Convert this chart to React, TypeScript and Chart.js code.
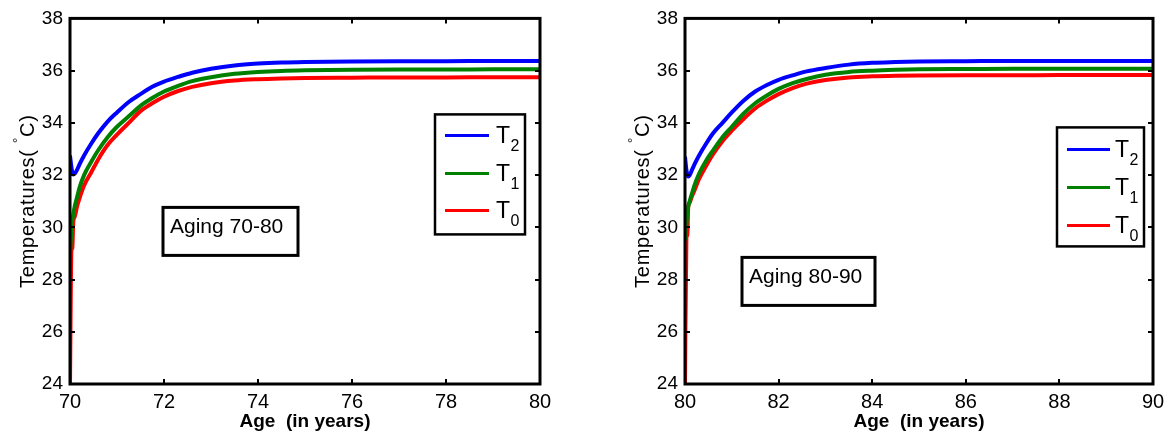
import React, { useEffect, useRef } from 'react';
import { Chart, registerables } from 'chart.js';

Chart.register(...registerables);

// ---------- Data ----------
const AGES_A = [70, 70.03, 70.05, 70.07, 70.1, 70.15, 70.2, 70.3, 70.45, 70.6, 70.8, 71, 71.25, 71.5, 71.75, 72, 72.3, 72.6, 73, 73.5, 74, 74.5, 75, 76, 77, 78, 79, 80];
const T2_A = [32.75, 32.3, 32.1, 32.02, 32.05, 32.2, 32.4, 32.75, 33.2, 33.6, 34.05, 34.4, 34.8, 35.1, 35.38, 35.58, 35.76, 35.92, 36.07, 36.2, 36.27, 36.31, 36.33, 36.35, 36.36, 36.36, 36.37, 36.37];
const T1_A = [29.0, 29.9, 30.3, 30.5, 30.8, 31.15, 31.5, 32.0, 32.5, 32.95, 33.45, 33.85, 34.25, 34.65, 34.95, 35.2, 35.42, 35.6, 35.75, 35.88, 35.95, 35.99, 36.01, 36.03, 36.04, 36.04, 36.05, 36.05];
const T0_A = [24.0, 29.1, 29.2, 30.2, 30.4, 30.8, 31.1, 31.6, 32.1, 32.6, 33.15, 33.55, 34.0, 34.45, 34.75, 35.0, 35.22, 35.38, 35.52, 35.62, 35.67, 35.7, 35.72, 35.73, 35.74, 35.74, 35.75, 35.75];

const AGES_B = [80, 80.03, 80.05, 80.07, 80.1, 80.15, 80.2, 80.3, 80.45, 80.6, 80.8, 81, 81.25, 81.5, 81.75, 82, 82.3, 82.6, 83, 83.5, 84, 84.5, 85, 86, 87, 88, 89, 90];
const T2_B = [32.7, 32.2, 32.0, 31.95, 32.0, 32.2, 32.4, 32.75, 33.2, 33.6, 34.0, 34.4, 34.85, 35.2, 35.45, 35.65, 35.82, 35.97, 36.1, 36.23, 36.3, 36.33, 36.35, 36.36, 36.37, 36.37, 36.37, 36.37];
const T1_B = [29.5, 30.1, 30.6, 30.8, 31.0, 31.3, 31.6, 32.05, 32.55, 32.95, 33.45, 33.85, 34.35, 34.75, 35.05, 35.3, 35.52, 35.68, 35.84, 35.95, 36.0, 36.03, 36.05, 36.06, 36.07, 36.07, 36.07, 36.07];
const T0_B = [24.0, 29.6, 29.7, 30.8, 30.95, 31.2, 31.4, 31.85, 32.35, 32.8, 33.3, 33.7, 34.15, 34.55, 34.85, 35.1, 35.33, 35.5, 35.64, 35.74, 35.78, 35.8, 35.81, 35.82, 35.82, 35.83, 35.83, 35.83];

const X_TICKS_A = [70, 72, 74, 76, 78, 80];
const X_TICKS_B = [80, 82, 84, 86, 88, 90];
const Y_TICKS = [24, 26, 28, 30, 32, 34, 36, 38];

const SERIES_LABELS = ['T_2', 'T_1', 'T_0'];
const SERIES_COLORS = ['#0000FF', '#008000', '#FF0000'];

const NOTE_A = 'Aging 70-80';
const NOTE_B = 'Aging 80-90';

const X_TITLE = 'Age  (in years)';
const Y_TITLE_PARTS = ['Temperatures( ', '\u00B0', 'C)'];

const FONT = '"Liberation Sans", Arial, Helvetica, sans-serif';

// ---------- Frame / legend / note plugin ----------
const framePlugin = {
  id: 'matlabFrame',
  afterDatasetsDraw(chart: any, _args: any, opts: any) {
    const { ctx, chartArea } = chart;
    const { left, right, top, bottom } = chartArea;
    const xs = chart.scales.x;
    const ys = chart.scales.y;
    ctx.save();
    ctx.strokeStyle = '#000';
    ctx.lineCap = 'butt';
    // inward ticks
    ctx.lineWidth = 2;
    const tl = 5;
    ctx.beginPath();
    for (const t of xs.ticks) {
      const px = Math.round(xs.getPixelForValue(t.value));
      ctx.moveTo(px, bottom); ctx.lineTo(px, bottom - tl);
      ctx.moveTo(px, top); ctx.lineTo(px, top + tl);
    }
    for (const t of ys.ticks) {
      const py = Math.round(ys.getPixelForValue(t.value));
      ctx.moveTo(left, py); ctx.lineTo(left + tl, py);
      ctx.moveTo(right, py); ctx.lineTo(right - tl, py);
    }
    ctx.stroke();
    // box
    ctx.lineWidth = 3;
    ctx.strokeRect(left, top, right - left, bottom - top);

    // y title (with superscript degree)
    ctx.save();
    ctx.translate(opts.yTitleX, (top + bottom) / 2);
    ctx.rotate(-Math.PI / 2);
    ctx.fillStyle = '#000';
    ctx.textBaseline = 'alphabetic';
    ctx.textAlign = 'left';
    (ctx as any).letterSpacing = '0.75px';
    const bigFont = `20px ${FONT}`;
    const smallFont = `13px ${FONT}`;
    ctx.font = bigFont;
    const w0 = ctx.measureText(Y_TITLE_PARTS[0]).width;
    const w2 = ctx.measureText(Y_TITLE_PARTS[2]).width;
    ctx.font = smallFont;
    const w1 = ctx.measureText(Y_TITLE_PARTS[1]).width;
    const total = w0 + w1 + w2;
    let cx = -total / 2;
    const base = 7;
    ctx.font = bigFont;
    ctx.fillText(Y_TITLE_PARTS[0], cx, base);
    cx += w0;
    ctx.font = smallFont;
    ctx.fillText(Y_TITLE_PARTS[1], cx, base - 12);
    cx += w1;
    ctx.font = bigFont;
    ctx.fillText(Y_TITLE_PARTS[2], cx, base);
    ctx.restore();

    // legend
    const lg = opts.legend;
    if (lg) {
      const bx = left + lg.x;
      const by = top + lg.y;
      ctx.fillStyle = '#fff';
      ctx.fillRect(bx, by, lg.w, lg.h);
      ctx.lineWidth = 2.5;
      ctx.strokeStyle = '#000';
      ctx.strokeRect(bx, by, lg.w, lg.h);
      chart.data.datasets.forEach((ds: any, i: number) => {
        const ry = by + lg.rows[i];
        ctx.strokeStyle = ds.borderColor;
        ctx.lineWidth = 3;
        ctx.beginPath();
        ctx.moveTo(bx + lg.lineX0, ry);
        ctx.lineTo(bx + lg.lineX1, ry);
        ctx.stroke();
        const [main, sub] = String(ds.label).split('_');
        ctx.fillStyle = '#000';
        ctx.textAlign = 'left';
        ctx.textBaseline = 'alphabetic';
        ctx.font = `23px ${FONT}`;
        const b = ry + 8;
        ctx.fillText(main, bx + lg.textX, b);
        const w = ctx.measureText(main).width;
        ctx.font = `16px ${FONT}`;
        ctx.fillText(sub || '', bx + lg.textX + w + 0.5, b + 8);
      });
    }

    // note box
    const nt = opts.note;
    if (nt) {
      const nx = left + nt.x;
      const ny = top + nt.y;
      ctx.fillStyle = '#fff';
      ctx.fillRect(nx, ny, nt.w, nt.h);
      ctx.lineWidth = 3;
      ctx.strokeStyle = '#000';
      ctx.strokeRect(nx, ny, nt.w, nt.h);
      ctx.fillStyle = '#000';
      ctx.font = `21px ${FONT}`;
      ctx.textAlign = 'left';
      ctx.textBaseline = 'alphabetic';
      ctx.fillText(nt.text, nx + 7, ny + 26);
    }
    ctx.restore();
  },
};

type PanelProps = {
  ages: number[];
  series: number[][];
  xTicks: number[];
  canvasLeft: number;
  canvasWidth: number;
  padRight: number;
  legend: any;
  note: any;
};

function Panel(props: PanelProps) {
  const ref = useRef<HTMLCanvasElement | null>(null);
  useEffect(() => {
    if (!ref.current) return;
    const { ages, series, xTicks, padRight, legend, note } = props;
    const datasets = series.map((vals, i) => ({
      label: SERIES_LABELS[i],
      data: ages.map((a, k) => ({ x: a, y: vals[k] })),
      borderColor: SERIES_COLORS[i],
      backgroundColor: SERIES_COLORS[i],
      borderWidth: 4,
      pointRadius: 0,
      cubicInterpolationMode: 'monotone' as const,
      fill: false,
    }));
    const chart = new Chart(ref.current, {
      type: 'line',
      data: { datasets },
      options: {
        animation: false,
        responsive: false,
        maintainAspectRatio: false,
        layout: { padding: { left: 0, top: 16, right: padRight, bottom: 0 } },
        plugins: {
          legend: { display: false },
          tooltip: { enabled: false },
          matlabFrame: { legend, note, yTitleX: 27 },
        } as any,
        scales: {
          x: {
            type: 'linear',
            min: xTicks[0],
            max: xTicks[xTicks.length - 1],
            grid: { display: false, drawTicks: false, tickLength: 0 },
            border: { display: false },
            afterBuildTicks: (s: any) => { s.ticks = xTicks.map((v) => ({ value: v })); },
            afterFit: (s: any) => { s.height = 54; },
            ticks: {
              color: '#000',
              padding: 6,
              font: { family: FONT, size: 20 },
              maxRotation: 0,
              autoSkip: false,
            },
            title: {
              display: true,
              text: X_TITLE,
              color: '#000',
              font: { family: FONT, size: 19, weight: 'bold' },
              padding: { top: 0, bottom: 5 },
            },
          },
          y: {
            type: 'linear',
            min: Y_TICKS[0],
            max: Y_TICKS[Y_TICKS.length - 1],
            grid: { display: false, drawTicks: false, tickLength: 0 },
            border: { display: false },
            afterBuildTicks: (s: any) => { s.ticks = Y_TICKS.map((v) => ({ value: v })); },
            afterFit: (s: any) => { s.width = 70; },
            ticks: {
              color: '#000',
              padding: 7,
              font: { family: FONT, size: 19 },
              autoSkip: false,
            },
            title: { display: false },
          },
        },
      },
      plugins: [framePlugin],
    } as any);
    return () => chart.destroy();
  }, []);
  return (
    <canvas
      ref={ref}
      width={props.canvasWidth}
      height={438}
      style={{ position: 'absolute', left: props.canvasLeft, top: 0, width: props.canvasWidth, height: 438 }}
    />
  );
}

export default function App() {
  return (
    <div style={{ position: 'absolute', left: 0, top: 0, width: 1172, height: 438, background: '#fff', overflow: 'hidden' }}>
      <Panel
        ages={AGES_A}
        series={[T2_A, T1_A, T0_A]}
        xTicks={X_TICKS_A}
        canvasLeft={0}
        canvasWidth={600}
        padRight={60}
        legend={{ x: 365, y: 96, w: 90, h: 120, rows: [21, 59, 96], lineX0: 10, lineX1: 54, textX: 61 }}
        note={{ x: 93, y: 189, w: 135, h: 48, text: NOTE_A }}
      />
      <Panel
        ages={AGES_B}
        series={[T2_B, T1_B, T0_B]}
        xTicks={X_TICKS_B}
        canvasLeft={615}
        canvasWidth={557}
        padRight={19}
        legend={{ x: 372, y: 109, w: 87, h: 119, rows: [22, 60, 98], lineX0: 10, lineX1: 53, textX: 58 }}
        note={{ x: 57, y: 239, w: 133, h: 48, text: NOTE_B }}
      />
    </div>
  );
}
